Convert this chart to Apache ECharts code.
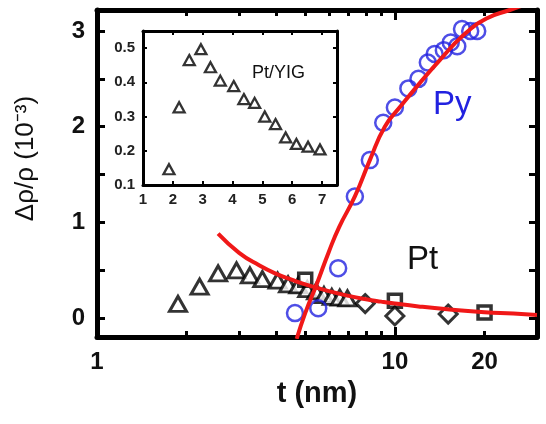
<!DOCTYPE html>
<html>
<head>
<meta charset="utf-8">
<script src="https://cdn.jsdelivr.net/npm/echarts@6/dist/echarts.min.js"></script>
<style>
  html, body { margin: 0; padding: 0; background: #fff; }
  #main { width: 546px; height: 424px; }
</style>
</head>
<body>
<div id="main"></div>
<script>
// Pt/YIG triangles (inset and main plot)
const ptYigT = [1.87, 2.21, 2.55, 2.94, 3.26, 3.59, 4.04, 4.38, 4.74, 5.08, 5.44, 5.78, 6.14, 6.53, 6.93]
const ptYigR = [0.146, 0.327, 0.465, 0.497, 0.444, 0.405, 0.389, 0.351, 0.34, 0.3, 0.278, 0.239, 0.22, 0.212, 0.204]
// Pt squares and diamonds
const ptSqT = [5.0, 10.0, 20.0]
const ptSqR = [0.4, 0.18, 0.055]
const ptDiT = [7.95, 10.0, 15.1]
const ptDiR = [0.15, 0.02, 0.04]
// Py circles
const pyT = [4.62, 5.53, 6.45, 7.34, 8.24, 9.14, 10.0, 11.1, 12.0, 12.9, 13.6, 14.6, 15.4, 16.2, 16.8, 17.9, 18.9]
const pyR = [0.05, 0.1, 0.52, 1.27, 1.65, 2.04, 2.2, 2.4, 2.5, 2.67, 2.76, 2.8, 2.88, 2.84, 3.02, 3.0, 3.0]
// fitted curves (red)
const pyFitT = [4.68, 5.0, 5.46, 6.0, 6.5, 7.34, 8.24, 9.25, 10.5, 12.0, 14.2, 16.9, 20.3, 24.3, 27.0]
const pyFitR = [-0.22, 0.05, 0.35, 0.69, 0.95, 1.27, 1.65, 2.0, 2.22, 2.44, 2.7, 2.95, 3.13, 3.22, 3.27]
const ptFitT = [2.55, 3.0, 3.5, 4.0, 4.5, 5.0, 6.0, 7.0, 8.0, 9.0, 10.0, 12.0, 15.0, 20.0, 25.0, 30.0]
const ptFitR = [0.88, 0.68, 0.55, 0.46, 0.4, 0.35, 0.28, 0.23, 0.195, 0.17, 0.15, 0.12, 0.09, 0.06, 0.045, 0.03]
// tick labels
const mainXLabels = [1, 10, 20]
const mainYLabels = [0, 1, 2, 3]
const mainYTicks = [0, 0.5, 1, 1.5, 2, 2.5, 3]
const insetXTicks = [1, 2, 3, 4, 5, 6, 7]
const insetYTicks = [0.1, 0.2, 0.3, 0.4, 0.5]

const zip = (a, b) => a.map((v, i) => [v, b[i]])
const FONT = 'Liberation Sans, Arial, sans-serif'
const RED = '#f01818'
const BLUE = '#2222e0'

const frame = (w) => ({ show: true, onZero: false, lineStyle: { color: '#000', width: w } })
const logTicks = {
  axisTick: { inside: true, length: 10, lineStyle: { color: '#000', width: 3 } },
  minorTick: { show: true, splitNumber: 9, length: 6, lineStyle: { color: '#000', width: 3 } },
}

const chart = echarts.init(document.getElementById('main'))
chart.setOption({
  animation: false,
  grid: [
    { left: 97, top: 10, width: 440, height: 327 },
    { left: 143, top: 31, width: 194, height: 154, show: true, backgroundColor: '#fff', borderWidth: 0 },
  ],
  xAxis: [
    {
      type: 'log', logBase: 10, min: 1, max: 30, gridIndex: 0, position: 'bottom',
      axisLine: frame(5), ...logTicks,
      axisLabel: { customValues: mainXLabels, margin: 13, color: '#111', fontSize: 24, fontWeight: 'bold', fontFamily: FONT },
      splitLine: { show: false },
      name: 't (nm)', nameLocation: 'middle', nameGap: 42,
      nameTextStyle: { color: '#111', fontSize: 29, fontWeight: 'bold', fontFamily: FONT },
    },
    {
      type: 'log', logBase: 10, min: 1, max: 30, gridIndex: 0, position: 'top',
      axisLine: frame(5), ...logTicks,
      axisLabel: { show: false },
      splitLine: { show: false },
    },
    {
      type: 'value', min: 1, max: 7.5, gridIndex: 1, position: 'bottom',
      axisLine: frame(3),
      axisTick: { inside: true, length: 4, customValues: insetXTicks, lineStyle: { color: '#000', width: 2 } },
      axisLabel: { customValues: insetXTicks, margin: 7, color: '#222', fontSize: 15, fontWeight: 'bold', fontFamily: FONT },
      splitLine: { show: false },
    },
    {
      type: 'value', min: 1, max: 7.5, gridIndex: 1, position: 'top',
      axisLine: frame(3),
      axisTick: { inside: true, length: 4, customValues: insetXTicks, lineStyle: { color: '#000', width: 2 } },
      axisLabel: { show: false },
      splitLine: { show: false },
    },
  ],
  yAxis: [
    {
      type: 'value', min: -0.2, max: 3.22, gridIndex: 0, position: 'left',
      axisLine: frame(5),
      axisTick: { inside: true, length: 8, customValues: mainYTicks, lineStyle: { color: '#000', width: 3 } },
      axisLabel: { customValues: mainYLabels, margin: 12, color: '#111', fontSize: 24, fontWeight: 'bold', fontFamily: FONT },
      splitLine: { show: false },
      name: 'Δρ/ρ (10⁻³)', nameLocation: 'middle', nameGap: 58, nameRotate: 90,
      nameTextStyle: { color: '#111', fontSize: 26, fontFamily: FONT, padding: [0, 0, 0, 30] },
    },
    {
      type: 'value', min: -0.2, max: 3.22, gridIndex: 0, position: 'right',
      axisLine: frame(5),
      axisTick: { inside: true, length: 8, customValues: mainYTicks, lineStyle: { color: '#000', width: 3 } },
      axisLabel: { show: false },
      splitLine: { show: false },
    },
    {
      type: 'value', min: 0.1, max: 0.55, gridIndex: 1, position: 'left',
      axisLine: frame(3),
      axisTick: { inside: true, length: 4, customValues: insetYTicks, lineStyle: { color: '#000', width: 2 } },
      axisLabel: { customValues: insetYTicks, margin: 8, color: '#222', fontSize: 15, fontWeight: 'bold', fontFamily: FONT,
        formatter: (v) => v.toFixed(1) },
      splitLine: { show: false },
    },
    {
      type: 'value', min: 0.1, max: 0.55, gridIndex: 1, position: 'right',
      axisLine: frame(3),
      axisTick: { inside: true, length: 4, customValues: insetYTicks, lineStyle: { color: '#000', width: 2 } },
      axisLabel: { show: false },
      splitLine: { show: false },
    },
  ],
  series: [
    {
      name: 'Pt/YIG', type: 'scatter', xAxisIndex: 0, yAxisIndex: 0,
      data: zip(ptYigT, ptYigR), symbol: 'triangle', symbolSize: [17, 15],
      itemStyle: { color: '#fff', borderColor: '#000', borderWidth: 3 },
    },
    {
      name: 'Pt sq', type: 'scatter', xAxisIndex: 0, yAxisIndex: 0,
      data: zip(ptSqT, ptSqR), symbol: 'rect', symbolSize: 13,
      itemStyle: { color: '#fff', borderColor: '#000', borderWidth: 3.5 },
    },
    {
      name: 'Pt di', type: 'scatter', xAxisIndex: 0, yAxisIndex: 0,
      data: zip(ptDiT, ptDiR), symbol: 'diamond', symbolSize: 18,
      itemStyle: { color: '#fff', borderColor: '#000', borderWidth: 3 },
    },
    {
      name: 'Py', type: 'scatter', xAxisIndex: 0, yAxisIndex: 0,
      data: zip(pyT, pyR), symbol: 'circle', symbolSize: 16,
      itemStyle: { color: 'rgba(0,0,0,0)', borderColor: BLUE, borderWidth: 2.5 },
    },
    {
      name: 'Pt fit', type: 'line', xAxisIndex: 0, yAxisIndex: 0, smooth: true, showSymbol: false, z: 5,
      data: zip(ptFitT, ptFitR), lineStyle: { color: RED, width: 4 },
    },
    {
      name: 'Py fit', type: 'line', xAxisIndex: 0, yAxisIndex: 0, smooth: true, showSymbol: false, z: 5,
      data: zip(pyFitT, pyFitR), lineStyle: { color: RED, width: 4 },
    },
    {
      name: 'Pt/YIG inset', type: 'scatter', xAxisIndex: 2, yAxisIndex: 2, z: 6,
      data: zip(ptYigT, ptYigR), symbol: 'triangle', symbolSize: [11, 10],
      itemStyle: { color: '#fff', borderColor: '#000', borderWidth: 2.3 },
    },
  ],
  graphic: [
    { type: 'text', left: 433, top: 88, z: 10, style: { text: 'Py', fill: BLUE, font: '33px ' + FONT } },
    { type: 'text', left: 407, top: 243, z: 10, style: { text: 'Pt', fill: '#111', font: '33px ' + FONT } },
    { type: 'text', left: 252, top: 64, z: 10, style: { text: 'Pt/YIG', fill: '#111', font: '18px ' + FONT } },
  ],
})
</script>
</body>
</html>
